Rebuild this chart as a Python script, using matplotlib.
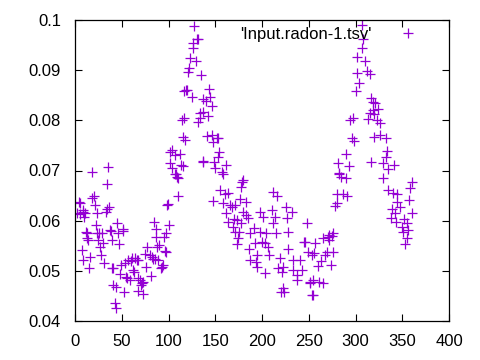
import matplotlib
matplotlib.use("Agg")
import matplotlib.pyplot as plt

plt.rcParams['font.family'] = ['Liberation Sans', 'DejaVu Sans']

# angle (x) and radon value (y)
angle = [1.8, 4.3, 5.0, 5.3, 8.2, 8.9, 7.2, 8.2, 9.9, 10.7, 11.8, 13.2, 13.2, 14.2,
         16.0, 15.3, 17.9, 20.3, 21.1, 22.1, 23.9, 23.9, 24.9, 26.0, 26.7, 27.5,
         28.6, 29.6, 31.0, 32.8, 33.9, 18.5, 35.6, 34.5, 36.7, 37.4, 38.5, 39.3,
         39.9, 40.9, 41.0, 42.8, 43.9, 43.5, 45.2, 46.3, 47.4, 48.9, 51.0, 51.7,
         52.4, 48.1, 53.5, 54.5, 55.3, 57.0, 58.8, 59.5, 60.6, 62.4, 63.1, 64.2,
         66.0, 67.7, 67.7, 69.5, 70.2, 71.3, 72.4, 67.0, 73.1, 75.9, 77.3, 75.2,
         80.2, 82.0, 83.1, 81.0, 85.6, 84.8, 86.3, 86.6, 88.0, 90.2, 89.1, 91.7,
         92.7, 93.8, 95.5, 97.0, 97.3, 100.9, 98.7, 99.8, 96.3, 110.5, 108.0, 109.8,
         101.6, 103.4, 107.0, 112.3, 101.6, 103.4, 107.0, 109.4, 113.0, 115.8,
         115.2, 117.6, 114.1, 116.6, 116.9, 118.7, 120.0, 121.2, 122.2, 123.0,
         124.8, 125.9, 126.5, 127.6, 130.1, 131.9, 129.4, 134.4, 133.7, 131.9,
         133.7, 136.6, 136.6, 140.1, 143.6, 144.4, 146.2, 142.6, 140.8, 146.2,
         147.3, 151.5, 152.6, 136.6, 137.2, 148.7, 154.3, 153.3, 149.7, 156.9,
         161.5, 157.9, 147.9, 155.1, 160.4, 164.0, 158.6, 165.8, 167.6, 171.1,
         177.5, 178.3, 179.4, 176.5, 182.9, 161.5, 164.0, 170.0, 172.9, 168.7,
         177.2, 180.0, 182.9, 185.3, 171.1, 175.7, 174.6, 173.6, 187.2, 191.8,
         197.9, 201.4, 197.9, 192.5, 186.4, 187.2, 194.3, 195.0, 193.6, 199.7,
         203.2, 204.3, 206.8, 207.8, 203.2, 210.4, 211.4, 213.9, 215.0, 212.1,
         216.4, 219.3, 217.5, 222.8, 221.0, 220.1, 223.5, 222.1, 225.7, 231.7,
         226.4, 228.1, 228.1, 233.5, 233.5, 237.1, 237.8, 240.6, 242.5, 246.0,
         247.8, 249.5, 256.7, 255.6, 251.3, 254.2, 260.2, 244.9, 253.1, 262.8,
         267.4, 269.2, 265.6, 270.9, 272.0, 274.5, 276.3, 272.0, 273.5, 276.3,
         251.3, 254.2, 253.1, 261.3, 264.9, 279.9, 280.6, 286.3, 290.6, 282.7,
         284.2, 289.8, 278.1, 281.6, 282.7, 289.8, 293.4, 294.1, 297.6, 295.9,
         298.4, 300.5, 302.0, 301.3, 304.1, 306.6, 306.6, 308.3, 310.2, 312.0,
         315.5, 316.2, 318.4, 320.9, 324.4, 318.4, 315.5, 319.8, 313.7, 322.7,
         326.2, 319.8, 326.2, 332.6, 334.0, 332.6, 329.1, 341.2, 335.1, 316.2,
         329.1, 335.1, 340.4, 344.0, 344.7, 347.6, 338.6, 342.2, 337.7, 343.3,
         351.9, 355.4, 349.4, 351.1, 356.5, 354.7, 352.9, 357.6, 360.1, 358.3,
         360.1]
radon = [0.0615, 0.0638, 0.0635, 0.0613, 0.0618, 0.0621, 0.0541, 0.0522, 0.0608,
         0.0615, 0.0578, 0.0575, 0.0565, 0.0561, 0.0528, 0.0505, 0.0645, 0.0649,
         0.0631, 0.0591, 0.0615, 0.0575, 0.0561, 0.0575, 0.0548, 0.0532, 0.0575,
         0.0555, 0.0515, 0.0618, 0.0623, 0.0698, 0.0706, 0.0673, 0.0628, 0.0581,
         0.0580, 0.0561, 0.0505, 0.0506, 0.0472, 0.0435, 0.0468, 0.0425, 0.0595,
         0.0575, 0.0553, 0.0512, 0.0580, 0.0583, 0.0458, 0.0493, 0.0515, 0.0488,
         0.0485, 0.0522, 0.0482, 0.0520, 0.0525, 0.0502, 0.0498, 0.0525, 0.0522,
         0.0522, 0.0485, 0.0482, 0.0472, 0.0475, 0.0477, 0.0460, 0.0454, 0.0508,
         0.0548, 0.0534, 0.0532, 0.0528, 0.0523, 0.0490, 0.0523, 0.0598, 0.0583,
         0.0568, 0.0547, 0.0551, 0.0522, 0.0505, 0.0508, 0.0512, 0.0568, 0.0538,
         0.0575, 0.0591, 0.0631, 0.0633, 0.0540, 0.0649, 0.0693, 0.0686, 0.0736,
         0.0741, 0.0731, 0.0733, 0.0715, 0.0704, 0.0693, 0.0688, 0.0711, 0.0708,
         0.0767, 0.0761, 0.0800, 0.0804, 0.0859, 0.0860, 0.0860, 0.0896, 0.0904,
         0.0924, 0.0847, 0.0944, 0.0955, 0.0988, 0.0963, 0.0963, 0.0919, 0.0890,
         0.0814, 0.0797, 0.0804, 0.0817, 0.0842, 0.0839, 0.0862, 0.0846, 0.0829,
         0.0809, 0.0769, 0.0771, 0.0757, 0.0765, 0.0764, 0.0717, 0.0719, 0.0717,
         0.0737, 0.0727, 0.0704, 0.0698, 0.0711, 0.0694, 0.0640, 0.0661, 0.0654,
         0.0656, 0.0635, 0.0631, 0.0627, 0.0631, 0.0667, 0.0678, 0.0682, 0.0643,
         0.0638, 0.0615, 0.0598, 0.0603, 0.0601, 0.0588, 0.0595, 0.0618, 0.0611,
         0.0605, 0.0578, 0.0578, 0.0565, 0.0553, 0.0576, 0.0585, 0.0618, 0.0608,
         0.0578, 0.0555, 0.0543, 0.0522, 0.0532, 0.0507, 0.0518, 0.0558, 0.0555,
         0.0575, 0.0548, 0.0532, 0.0495, 0.0621, 0.0595, 0.0608, 0.0575, 0.0658,
         0.0649, 0.0525, 0.0505, 0.0507, 0.0498, 0.0458, 0.0458, 0.0465, 0.0628,
         0.0618, 0.0605, 0.0578, 0.0543, 0.0522, 0.0502, 0.0492, 0.0482, 0.0522,
         0.0502, 0.0558, 0.0596, 0.0538, 0.0556, 0.0535, 0.0478, 0.0452, 0.0510,
         0.0558, 0.0532, 0.0520, 0.0532, 0.0538, 0.0565, 0.0568, 0.0571, 0.0569,
         0.0575, 0.0561, 0.0512, 0.0538, 0.0476, 0.0482, 0.0452, 0.0478, 0.0475,
         0.0635, 0.0653, 0.0653, 0.0649, 0.0693, 0.0688, 0.0686, 0.0629, 0.0714,
         0.0696, 0.0733, 0.0708, 0.0800, 0.0804, 0.0764, 0.0759, 0.0859, 0.0926,
         0.0895, 0.0875, 0.0990, 0.0944, 0.0963, 0.0919, 0.0899, 0.0892, 0.0844,
         0.0837, 0.0834, 0.0822, 0.0821, 0.0814, 0.0813, 0.0802, 0.0800, 0.0795,
         0.0767, 0.0771, 0.0764, 0.0739, 0.0726, 0.0715, 0.0710, 0.0702, 0.0717,
         0.0686, 0.0661, 0.0656, 0.0654, 0.0638, 0.0628, 0.0624, 0.0615, 0.0605,
         0.0598, 0.0603, 0.0595, 0.0588, 0.0578, 0.0581, 0.0565, 0.0553, 0.0641,
         0.0616, 0.0665, 0.0678]

x_ticks = [0, 50, 100, 150, 200, 250, 300, 350, 400]
y_ticks = [0.04, 0.05, 0.06, 0.07, 0.08, 0.09, 0.1]
y_labels = ['0.04', '0.05', '0.06', '0.07', '0.08', '0.09', '0.1']

fig = plt.figure(figsize=(4.8, 3.6), dpi=100)
ax = fig.add_axes([75 / 480, 1 - 321 / 360, 374 / 480, 301 / 360])

ax.plot(angle, radon, linestyle='none', marker='+', markersize=6.5,
        markeredgewidth=0.9, color='#9400D3', label="'Input.radon-1.tsv'")

ax.set_xlim(0, 400)
ax.set_ylim(0.04, 0.1)
ax.set_xticks(x_ticks)
ax.set_yticks(y_ticks)
ax.set_yticklabels(y_labels)
ax.tick_params(direction='in', length=5, width=0.8, top=True, right=True,
               labelsize=12, colors='black')
ax.tick_params(axis='x', pad=9)
ax.tick_params(axis='y', pad=10)
for s in ax.spines.values():
    s.set_linewidth(0.9)

ax.legend(loc='upper right', markerfirst=False, frameon=False, fontsize=12,
          handlelength=2.0, handletextpad=1.2, borderaxespad=0.2,
          bbox_to_anchor=(0.962, 1.01))

fig.savefig('out.png', dpi=100)
